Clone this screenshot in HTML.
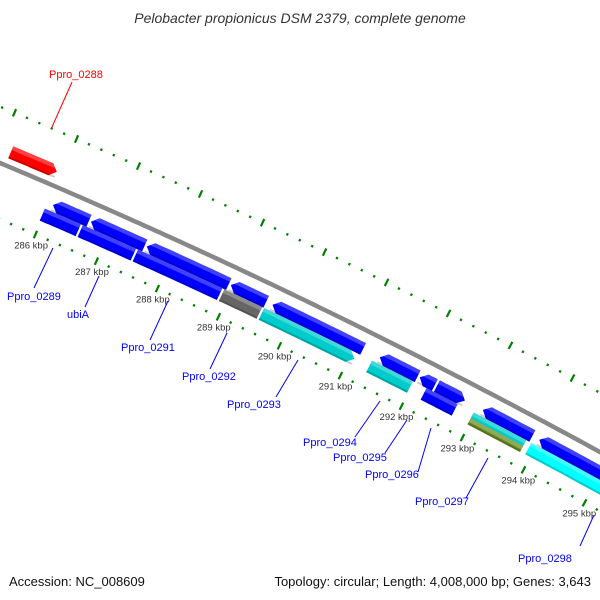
<!DOCTYPE html>
<html><head><meta charset="utf-8"><style>
body{margin:0;background:#fff}
svg{display:block;font-family:"Liberation Sans",sans-serif}
</style></head><body>
<svg id="map" width="600" height="600" viewBox="0 0 600 600">
<rect width="600" height="600" fill="#fff"/>
<text x="300" y="23" text-anchor="middle" font-size="14" font-style="italic" fill="#333">Pelobacter propionicus DSM 2379, complete genome</text>
<g id="ticks"></g>
<g id="features"></g>
<g id="labels" font-size="11" fill="#0000ff">
<text x="49" y="78" fill="#ff0000" font-size="11">Ppro_0288</text>
<line x1="72" y1="82" x2="52" y2="127" stroke="#ff0000"/>
<text x="7" y="300">Ppro_0289</text>
<line x1="34" y1="288" x2="53" y2="248" stroke="#0000ff"/>
<text x="67" y="318">ubiA</text>
<line x1="85" y1="307" x2="99" y2="276" stroke="#0000ff"/>
<text x="121" y="351">Ppro_0291</text>
<line x1="150" y1="340" x2="168" y2="301" stroke="#0000ff"/>
<text x="182" y="380">Ppro_0292</text>
<line x1="210" y1="369" x2="227" y2="333" stroke="#0000ff"/>
<text x="227" y="408">Ppro_0293</text>
<line x1="276" y1="397" x2="298" y2="360" stroke="#0000ff"/>
<text x="303" y="446">Ppro_0294</text>
<line x1="355" y1="437" x2="380" y2="401" stroke="#0000ff"/>
<text x="333" y="461">Ppro_0295</text>
<line x1="385" y1="453" x2="407" y2="420" stroke="#0000ff"/>
<text x="365" y="478">Ppro_0296</text>
<line x1="418" y1="472" x2="431" y2="428" stroke="#0000ff"/>
<text x="415" y="505">Ppro_0297</text>
<line x1="466" y1="498" x2="488" y2="458" stroke="#0000ff"/>
<text x="518" y="562">Ppro_0298</text>
<line x1="580" y1="546" x2="594" y2="515" stroke="#0000ff"/>
</g>
<text x="9" y="586" font-size="13" fill="#111">Accession: NC_008609</text>
<text x="591" y="586" font-size="13" fill="#111" text-anchor="end">Topology: circular; Length: 4,008,000 bp; Genes: 3,643</text>
</svg>
<script>
// data
const featStart = [285.16, 286.05, 286.67, 287.58, 288.95, 289.63, 291.38, 292.03, 292.31, 293.06, 293.98, 285.96, 286.58, 287.48, 288.89, 289.54, 291.30, 292.19, 292.96, 292.96, 293.90];
const featEnd   = [285.94, 286.67, 287.58, 288.95, 289.56, 291.14, 292.03, 292.31, 292.80, 293.90, 295.30, 286.58, 287.48, 288.89, 289.54, 291.09, 292.00, 292.73, 293.85, 293.85, 295.36];
const featRow   = [-1, 1, 1, 1, 1, 1, 1, 1, 1, 1, 1, 2, 2, 2, 2, 2, 2, 2, 2, 2.5, 2];
const featColor = ["#ff0000","#0000ff","#0000ff","#0000ff","#0000ff","#0000ff","#0000ff","#0000ff","#0000ff","#0000ff","#0000ff","#0000ff","#0000ff","#0000ff","#666666","#00cccc","#00cccc","#0000ff","#00cccc","#6b8e23","#00ffff"];
const featDir   = [1, -1, -1, -1, -1, -1, -1, -1, 1, -1, -1, 0, 0, 0, 0, 1, 0, 0, 0, 0, 0];
const tickLabels = ["286 kbp","287 kbp","288 kbp","289 kbp","290 kbp","291 kbp","292 kbp","293 kbp","294 kbp","295 kbp"];
const tickKbp = [286,287,288,289,290,291,292,293,294,295];

const NS="http://www.w3.org/2000/svg";
const A=0.4183,B=1.056e-4;
function bx(k){return 56+(k-286)*61.5;}
function curveY(x){return 163+A*x+B*x*x;}
function pt(x,off){const t=Math.atan(A+2*B*x);return [x-off*Math.sin(t),curveY(x)+off*Math.cos(t)];}
const tg=document.getElementById('ticks');
const fg=document.getElementById('features');

let d="";for(let x=-60;x<=680;x+=5){const p=pt(x,0);d+=(d?"L":"M")+p[0].toFixed(1)+","+p[1].toFixed(1);}
const bb=document.createElementNS(NS,'path');
bb.setAttribute('d',d);bb.setAttribute('stroke','#888');bb.setAttribute('stroke-width','4.5');bb.setAttribute('fill','none');


tg.appendChild(bb);

for(let i=0;i<=60;i++){
  const k=284.6+i*0.2;const major=Math.abs(k-Math.round(k))<0.01;
  const x=bx(k);
  [52,-52].forEach(o=>{
    const len=major?4:1.2;
    const a=pt(x,o-len),b=pt(x,o+len);
    const l=document.createElementNS(NS,'line');
    l.setAttribute('x1',a[0]);l.setAttribute('y1',a[1]);l.setAttribute('x2',b[0]);l.setAttribute('y2',b[1]);
    l.setAttribute('stroke','#008000');l.setAttribute('stroke-width','2.2');
    
    
    tg.appendChild(l);
  });
}
tickKbp.forEach((k,i)=>{
  const p=pt(bx(k),63);
  const t=document.createElementNS(NS,'text');
  t.setAttribute('x',p[0]);t.setAttribute('y',p[1]+4);t.setAttribute('text-anchor','middle');
  t.setAttribute('font-size','9.5');t.setAttribute('fill','#333');
  t.textContent=tickLabels[i];
  
  
  tg.appendChild(t);
});

function band(x1,x2,o1,o2,dir,tip){
  const pts=[];const n=12;
  const a1=dir<0?x1+tip:x1, a2=dir>0?x2-tip:x2;
  for(let i=0;i<=n;i++){pts.push(pt(a1+(a2-a1)*i/n,o1));}
  if(dir>0)pts.push(pt(x2,(o1+o2)/2));
  for(let i=n;i>=0;i--){pts.push(pt(a1+(a2-a1)*i/n,o2));}
  if(dir<0)pts.push(pt(x1,(o1+o2)/2));
  return pts.map(p=>p[0].toFixed(1)+","+p[1].toFixed(1)).join(" ");
}
const rowOff={"-1":-14,"1":18,"2":31,"2.5":34.5};
featStart.forEach((s,i)=>{
  const x1=bx(s)+1,x2=bx(featEnd[i])-1;
  const c=rowOff[String(featRow[i])];
  const h=featRow[i]===2.5?3.5:6.5;
  const g=document.createElementNS(NS,'g');
  
  
  const p=document.createElementNS(NS,'polygon');
  p.setAttribute('points',band(x1,x2,c-h,c+h,featDir[i],6));
  p.setAttribute('fill',featColor[i]);
  g.appendChild(p);
  const hl=document.createElementNS(NS,'polygon');
  hl.setAttribute('points',band(x1,x2,c-h,c-h+4,0,0));
  hl.setAttribute('fill','#fff');hl.setAttribute('opacity','0.25');
  g.appendChild(hl);
  const sh=document.createElementNS(NS,'polygon');
  sh.setAttribute('points',band(x1,x2,c+h-2,c+h,0,0));
  sh.setAttribute('fill','#000');sh.setAttribute('opacity','0.2');
  g.appendChild(sh);
  fg.appendChild(g);
});
</script>
</body></html>
